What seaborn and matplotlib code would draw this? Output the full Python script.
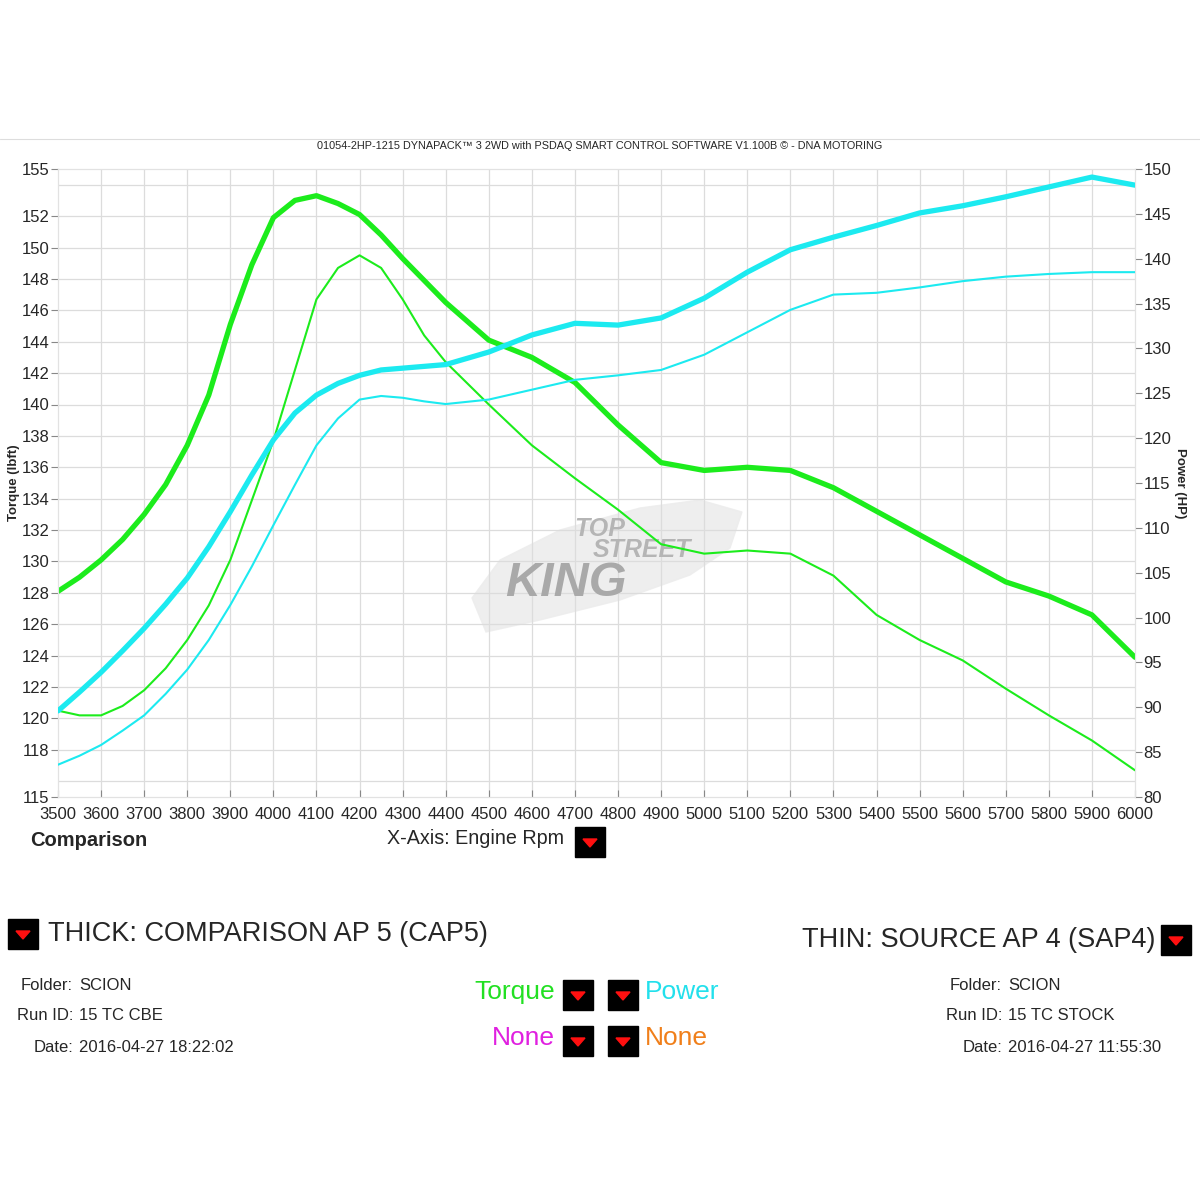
import numpy as np
import pandas as pd
import matplotlib
matplotlib.use("Agg")
import matplotlib.pyplot as plt
import seaborn as sns
from matplotlib.patches import Rectangle, Polygon

sns.set_style("white")
plt.rcParams["font.family"] = ["Liberation Sans", "DejaVu Sans"]

W, H = 1200, 1200
GREEN = "#1cec1c"
CYAN = "#1ceaf0"

# read every 50 rpm through the steep part, every 100 rpm after
rpm = [3500, 3550, 3600, 3650, 3700, 3750, 3800, 3850, 3900, 3950, 4000, 4050, 4100, 4150,
       4200, 4250, 4300, 4350, 4400, 4500, 4600, 4700, 4800, 4900, 5000, 5100, 5200, 5300,
       5400, 5500, 5600, 5700, 5800, 5900, 6000]

# thick = comparison run (CAP5), thin = source run (SAP4)
torque_cap5 = [128.1, 129.0, 130.1, 131.4, 133.0, 134.9, 137.4, 140.6, 145.1, 148.9, 151.9, 153.0, 153.3, 152.8,
               152.1, 150.8, 149.3, 147.9, 146.5, 144.1, 143.0, 141.4, 138.7, 136.3, 135.8, 136.0, 135.8, 134.7,
               133.2, 131.7, 130.2, 128.7, 127.8, 126.6, 123.9]
torque_sap4 = [120.5, 120.2, 120.2, 120.8, 121.8, 123.2, 125.0, 127.2, 130.1, 133.9, 137.7, 142.2, 146.7, 148.7,
               149.5, 148.7, 146.7, 144.4, 142.7, 140.0, 137.4, 135.3, 133.3, 131.1, 130.5, 130.7, 130.5, 129.1,
               126.6, 125.0, 123.7, 121.9, 120.2, 118.6, 116.7]
power_cap5 = [89.6, 91.7, 93.9, 96.3, 98.8, 101.5, 104.4, 107.9, 111.8, 115.9, 119.8, 122.8, 124.8, 126.1,
              127.0, 127.6, 127.8, 128.0, 128.2, 129.6, 131.5, 132.8, 132.6, 133.4, 135.6, 138.5, 141.0, 142.4,
              143.7, 145.1, 145.9, 146.9, 148.0, 149.1, 148.2]
power_sap4 = [83.6, 84.6, 85.8, 87.4, 89.1, 91.5, 94.2, 97.5, 101.4, 105.7, 110.3, 114.8, 119.2, 122.2,
              124.3, 124.7, 124.5, 124.1, 123.8, 124.3, 125.4, 126.5, 127.0, 127.6, 129.3, 131.8, 134.3, 136.0,
              136.2, 136.8, 137.5, 138.0, 138.3, 138.5, 138.5]

rpm_ticks = list(range(3500, 6001, 100))
torque_ticks = [115, 118, 120, 122, 124, 126, 128, 130, 132, 134, 136, 138, 140,
                142, 144, 146, 148, 150, 152, 155]
torque_grid = list(range(116, 155, 2))
power_ticks = list(range(80, 151, 5))

df = pd.DataFrame({"rpm": rpm, "tq_cap5": torque_cap5, "tq_sap4": torque_sap4,
                   "hp_cap5": power_cap5, "hp_sap4": power_sap4})


def fx(x):
    return x / W


def fy(y):
    return 1 - y / H


def drop_box(fig, x0, y0, size=30):
    fig.patches.append(Rectangle((fx(x0), fy(y0 + size)), size / W, size / H,
                                 transform=fig.transFigure, color="black", zorder=5))
    tri = [(fx(x0 + 8), fy(y0 + 12)), (fx(x0 + 22), fy(y0 + 12)), (fx(x0 + 15), fy(y0 + 20))]
    fig.patches.append(Polygon(tri, closed=True, transform=fig.transFigure,
                               color="#ff1010", zorder=6))


fig = plt.figure(figsize=(12, 12), dpi=100)
ax = fig.add_axes([fx(58), fy(797), 1077 / W, 628 / H])
ax2 = ax.twinx()

# watermark (brush + logo text) behind the curves
brush = [(472, 598), (500, 560), (560, 530), (640, 508), (700, 500), (742, 512), (730, 548),
         (690, 575), (620, 600), (540, 620), (486, 632)]
ax.add_patch(Polygon([(fx(x), fy(y)) for x, y in brush], closed=True, transform=fig.transFigure,
                     color="#ededed", alpha=0.9, zorder=0))
ax.text(fx(600), fy(529), "TOP", fontsize=18, fontstyle="italic", fontweight="bold",
        color="#b5b5b5", ha="center", va="center", transform=fig.transFigure, zorder=1)
ax.text(fx(642), fy(550), "STREET", fontsize=18, fontstyle="italic", fontweight="bold",
        color="#b5b5b5", ha="center", va="center", transform=fig.transFigure, zorder=1)
ax.text(fx(566), fy(584), "KING", fontsize=35, fontstyle="italic", fontweight="bold",
        color="#a9a9a9", ha="center", va="center", transform=fig.transFigure, zorder=1)

line_kw = dict(solid_joinstyle="round", solid_capstyle="round")
sns.lineplot(data=df, x="rpm", y="tq_cap5", ax=ax, color=GREEN, linewidth=3.8, zorder=4, **line_kw)
sns.lineplot(data=df, x="rpm", y="tq_sap4", ax=ax, color=GREEN, linewidth=1.5, zorder=4, **line_kw)
sns.lineplot(data=df, x="rpm", y="hp_cap5", ax=ax2, color=CYAN, linewidth=3.8, zorder=3, **line_kw)
sns.lineplot(data=df, x="rpm", y="hp_sap4", ax=ax2, color=CYAN, linewidth=1.5, zorder=3, **line_kw)

ax.set_xlim(3500, 6000)
ax.set_ylim(115, 155)
ax2.set_ylim(80, 150)
ax.set_xticks(rpm_ticks)
ax.set_yticks(torque_ticks)
ax2.set_yticks(power_ticks)
ax.set_xlabel("")
ax.set_ylabel("")
ax2.set_ylabel("")

for v in torque_grid:
    ax.axhline(v, color="#dcdcdc", linewidth=0.9, zorder=0)
for v in rpm_ticks[1:-1]:
    ax.axvline(v, color="#dcdcdc", linewidth=0.9, zorder=0)

for a in (ax, ax2):
    for s in a.spines.values():
        s.set_color("#e2e2e2")
        s.set_linewidth(0.8)
    a.tick_params(length=5, width=0.8, color="#888888", labelsize=12, pad=1)
ax.tick_params(axis="x", bottom=True, direction="in", labelsize=12, pad=7)
ax.tick_params(axis="y", left=True)
ax2.tick_params(axis="y", right=True)

fig.text(fx(14), fy(483), "Torque (lbft)", rotation=90, fontsize=9.5, fontweight="bold",
         ha="center", va="center")
fig.text(fx(1180), fy(483), "Power (HP)", rotation=270, fontsize=9.5, fontweight="bold",
         ha="center", va="center")

# header
fig.lines.append(plt.Line2D([0, 1], [fy(139), fy(139)], transform=fig.transFigure,
                            color="#dddddd", linewidth=0.8))
fig.text(0.5, fy(146), "01054-2HP-1215 DYNAPACK\u2122 3 2WD with PSDAQ SMART CONTROL SOFTWARE V1.100B \u00a9 - DNA MOTORING",
         fontsize=7.8, ha="center", va="center")

# below the axis
fig.text(fx(30), fy(841), "Comparison", fontsize=14.5, fontweight="bold", ha="left", va="center")
fig.text(fx(564), fy(839), "X-Axis: Engine Rpm", fontsize=14.2, ha="right", va="center")
drop_box(fig, 575, 827)

# run legend
drop_box(fig, 8, 919)
fig.text(fx(48), fy(934), "THICK: COMPARISON AP 5 (CAP5)", fontsize=19.5, ha="left", va="center")
drop_box(fig, 1161, 925)
fig.text(fx(1155), fy(940), "THIN: SOURCE AP 4 (SAP4)", fontsize=19.5, ha="right", va="center")

info_l = [("Folder:", "SCION", 986), ("Run ID:", "15 TC CBE", 1016), ("Date:", "2016-04-27 18:22:02", 1047)]
info_r = [("Folder:", "SCION", 986), ("Run ID:", "15 TC STOCK", 1016), ("Date:", "2016-04-27 11:55:30", 1048)]
for lab, val, y in info_l:
    fig.text(fx(73), fy(y), lab, fontsize=12, ha="right", va="center")
    fig.text(fx(79), fy(y), val, fontsize=12, ha="left", va="center")
for lab, val, y in info_r:
    fig.text(fx(1002), fy(y), lab, fontsize=12, ha="right", va="center")
    fig.text(fx(1008), fy(y), val, fontsize=12, ha="left", va="center")

# channel selectors
fig.text(fx(555), fy(992), "Torque", fontsize=19, color="#22e022", ha="right", va="center")
drop_box(fig, 563, 980)
drop_box(fig, 608, 980)
fig.text(fx(645), fy(992), "Power", fontsize=19, color="#22e0ec", ha="left", va="center")
fig.text(fx(555), fy(1038), "None", fontsize=19, color="#e020e0", ha="right", va="center")
drop_box(fig, 563, 1026)
drop_box(fig, 608, 1026)
fig.text(fx(645), fy(1038), "None", fontsize=19, color="#f07f1a", ha="left", va="center")

fig.savefig("out.png", dpi=100)
